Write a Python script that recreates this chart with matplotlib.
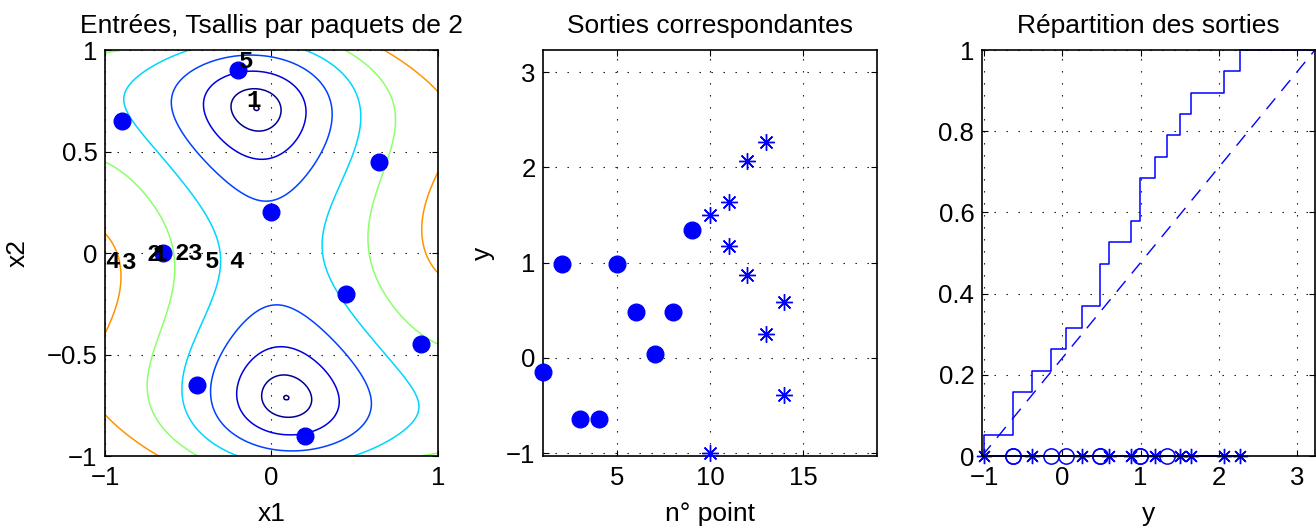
import numpy as np
import matplotlib
matplotlib.use('Agg')
import matplotlib.pyplot as plt
from matplotlib.ticker import FuncFormatter

plt.rcParams['font.family'] = ['Liberation Sans', 'DejaVu Sans']
plt.rcParams['font.size'] = 18.5

# points d'entree (9 premiers points)
x1_pts = [-0.2, -0.9, 0.65, 0.0, -0.65, 0.45, 0.9, -0.45, 0.2]
x2_pts = [0.9, 0.65, 0.45, 0.2, 0.0, -0.2, -0.45, -0.65, -0.9]

# numeros des paquets (texte sur le graphe de gauche)
lab_txt = ['5', '1', '4', '3', '2', '1', '2', '3', '5', '4']
lab_x = [-0.154, -0.108, -0.956, -0.854, -0.71, -0.67, -0.539, -0.459, -0.359, -0.208]
lab_y = [0.942, 0.749, -0.043, -0.046, -0.006, -0.006, -0.002, -0.002, -0.043, -0.043]

# sorties
n_init = [1, 2, 3, 4, 5, 6, 7, 8, 9]
y_init = [-0.15, 0.99, -0.637, -0.637, 0.99, 0.48, 0.045, 0.48, 1.34]
n_new = [10, 10, 11, 11, 12, 12, 13, 13, 14, 14]
y_new = [1.50, -1.0, 1.64, 1.18, 2.07, 0.875, 2.27, 0.25, 0.59, -0.385]

levels = [-1.0305, -0.945, -0.684, -0.248, 0.36, 1.144, 2.10]
y_lim = (-1.03, 3.233)


def camel(a, b):
    return (4 - 2.1 * a**2 + a**4 / 3) * a**2 + a * b + (-4 + 4 * b**2) * b**2


def fmt(v, pos):
    return ('%g' % v).replace('-', '\u2212')


def style(ax):
    ax.grid(True, color='k', linestyle=(0, (1.2, 9.6)), linewidth=0.8)
    ax.tick_params(direction='in', top=True, right=True, length=4, width=0.8)
    ax.tick_params(axis='x', pad=7)
    ax.tick_params(axis='y', pad=5.5)
    for s in ax.spines.values():
        s.set_linewidth(1.2)
    ax.xaxis.set_major_formatter(FuncFormatter(fmt))
    ax.yaxis.set_major_formatter(FuncFormatter(fmt))


fig = plt.figure(figsize=(13.16, 5.27), dpi=100)
ax1 = fig.add_axes([0.0798, 0.1347, 0.2528, 0.7704])
ax2 = fig.add_axes([0.4128, 0.1347, 0.2538, 0.7704])
ax3 = fig.add_axes([0.7462, 0.1347, 0.2530, 0.7704])

# --- entrees
g = np.linspace(-1, 1, 201)
X1, X2 = np.meshgrid(g, g)
Z = camel(X1, X2)
ax1.contour(X1, X2, Z, levels=levels, cmap='jet', vmin=Z.min(), vmax=3.14, linewidths=1.1)
ax1.plot(x1_pts, x2_pts, 'o', color='b', markersize=12, clip_on=False, zorder=3)
for t, a, b in zip(lab_txt, lab_x, lab_y):
    ax1.text(a, b, t, ha='center', va='center', fontsize=17.5, fontweight='bold',
             family='Liberation Mono', zorder=4)
ax1.set_xlim(-1, 1)
ax1.set_ylim(-1, 1)
ax1.set_xticks([-1, -0.5, 0, 0.5, 1])
ax1.set_yticks([-1, -0.5, 0, 0.5, 1])
style(ax1)
ax1.set_xticks([-1, 0, 1])
ax1.set_xlabel('x1', labelpad=9, fontsize=19)
ax1.set_ylabel('x2', labelpad=12, fontsize=19)
ax1.set_title('Entrées, Tsallis par paquets de 2', pad=12, fontsize=19)

# --- sorties
ax2.plot(n_init, y_init, 'o', color='b', markersize=12, clip_on=False, zorder=3)
ax2.plot(n_new, y_new, linestyle='none', marker=(8, 2, 0), color='b',
         markersize=12, markeredgewidth=1.0, clip_on=False, zorder=3)
ax2.set_xlim(1, 19)
ax2.set_ylim(*y_lim)
ax2.set_xticks([5, 10, 15])
ax2.set_yticks([-1, 0, 1, 2, 3])
style(ax2)
ax2.set_xlabel('n° point', labelpad=9, fontsize=19)
ax2.set_ylabel('y', labelpad=8, fontsize=19)
ax2.set_title('Sorties correspondantes', pad=12, fontsize=19)

# --- repartition
vals = np.sort(np.r_[y_init, y_new])
n = len(vals)
ax3.step(np.r_[vals[0], vals, y_lim[1]], np.r_[0, np.arange(1, n + 1) / n, 1],
         where='post', color='b', linewidth=1.1, clip_on=False)
ax3.plot(y_lim, [0, 1], '--', color='b', linewidth=1.0, dashes=(10, 7))
ax3.plot(y_init, np.zeros(len(y_init)), 'o', color='b', markerfacecolor='none',
         markersize=11, markeredgewidth=1.1, clip_on=False)
ax3.plot(y_new, np.zeros(len(y_new)), '-', marker=(8, 2, 0), color='b',
         markersize=11, markeredgewidth=1.0, linewidth=1.1, clip_on=False)
ax3.set_xlim(*y_lim)
ax3.set_ylim(0, 1)
ax3.set_xticks([-1, 0, 1, 2, 3])
ax3.set_yticks([0, 0.2, 0.4, 0.6, 0.8, 1])
style(ax3)
ax3.set_xlabel('y', labelpad=9, fontsize=19)
ax3.set_title('Répartition des sorties', pad=12, fontsize=19)

fig.savefig('out.png', dpi=100)
